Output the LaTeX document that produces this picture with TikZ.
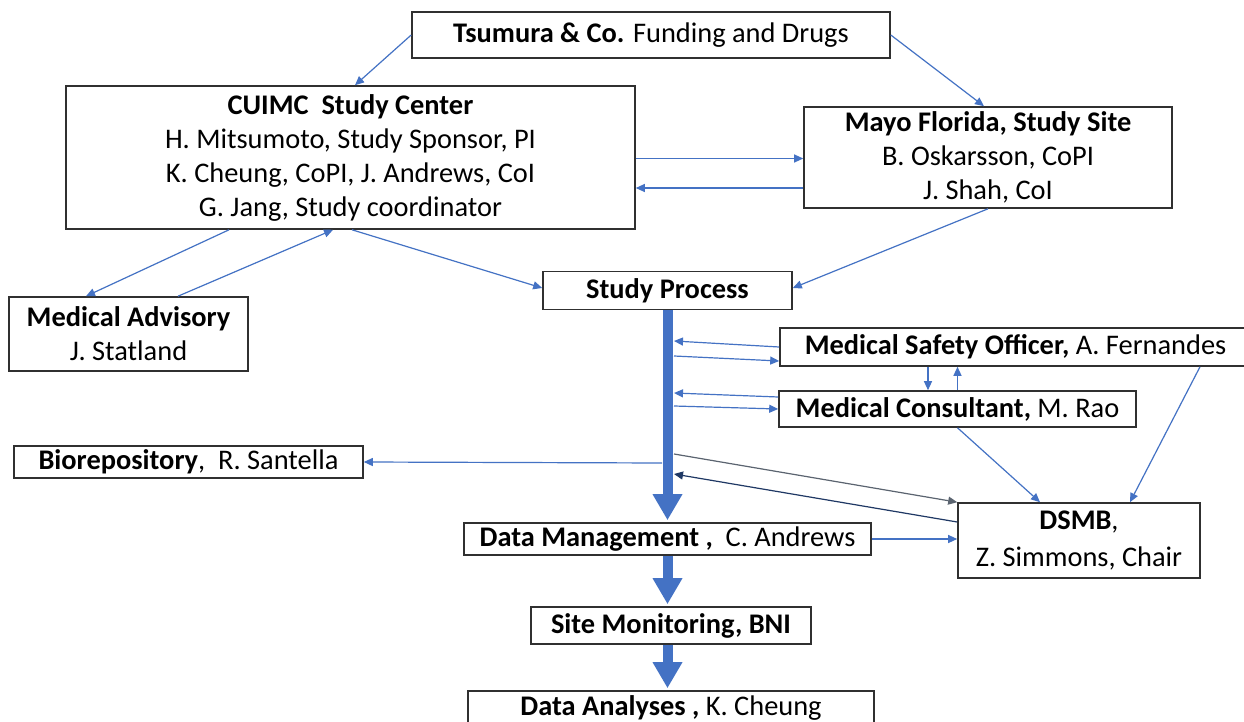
\documentclass[tikz,border=0pt]{standalone}
\usepackage{fontspec}
\setmainfont{Carlito}
\usetikzlibrary{arrows.meta}
\definecolor{ablue}{HTML}{4472C4}
\definecolor{agray}{HTML}{5B6470}
\definecolor{anavy}{HTML}{1F3864}
\definecolor{boxc}{HTML}{303030}
\begin{document}
\begin{tikzpicture}[x=0.5pt,y=-0.5pt,
  box/.style={draw=boxc, line width=0.8pt, inner sep=0pt, align=center, fill=white,
    font=\fontsize{14.2}{17}\selectfont},
  arr/.style={draw=ablue, line width=0.6pt, -{Triangle[length=4.5pt,width=4pt]}},
  big/.style={draw=ablue, line width=5pt, shorten >=1pt, -{Triangle[length=13pt,width=14pt]}}]
\clip (0,0) rectangle (1244,722);
\fill[white] (0,0) rectangle (1244,722);
% boxes
\node[box, minimum width=239pt, minimum height=23pt] (tsu) at (651,35)
  {\textbf{Tsumura \& Co.} Funding and Drugs};
\node[box, minimum width=284.5pt, minimum height=71.5pt] (cu) at (350.5,157.5)
  {\textbf{CUIMC\ \ Study Center}\\H. Mitsumoto, Study Sponsor, PI\\K. Cheung, CoPI, J. Andrews, CoI\\G. Jang, Study coordinator};
\node[box, minimum width=184pt, minimum height=50.5pt] (mayo) at (988,157.5)
  {\textbf{Mayo Florida, Study Site}\\B. Oskarsson, CoPI\\J. Shah, CoI};
\node[box, minimum width=124.5pt, minimum height=19pt] (sp) at (667.5,290.5)
  {\textbf{Study Process}};
\node[box, minimum width=119.5pt, minimum height=37pt] (ma) at (128.5,334)
  {\textbf{Medical Advisory}\\J. Statland};
\node[box, minimum width=235.5pt, minimum height=19pt] (mso) at (1015.5,347)
  {\textbf{Medical Safety Officer,} A. Fernandes};
\node[box, minimum width=178.5pt, minimum height=18pt] (mc) at (957.5,409)
  {\textbf{Medical Consultant,} M. Rao};
\node[box, minimum width=174.5pt, minimum height=16pt] (bio) at (188.5,462)
  {\textbf{Biorepository},\ \ R. Santella};
\node[box, minimum width=121pt, minimum height=37.5pt, font=\fontsize{14.2}{18.5}\selectfont] (dsmb) at (1079,540.5)
  {\textbf{DSMB},\\Z. Simmons, Chair};
\node[box, minimum width=203.5pt, minimum height=16pt] (dm) at (667.5,539)
  {\textbf{Data Management ,}\ \ C. Andrews};
\node[box, minimum width=140pt, minimum height=18.5pt] (sm) at (671,625.5)
  {\textbf{Site Monitoring, BNI}};
\node[box, minimum width=203pt, minimum height=17pt] (da) at (671,708)
  {\textbf{Data Analyses ,} K. Cheung};
% shaft coordinates
\coordinate (s1) at (674,341);
\coordinate (s2) at (674,356);
\coordinate (s3) at (674,393);
\coordinate (s4) at (674,406);
\coordinate (s5) at (662,463);
\coordinate (s6) at (674,454);
\coordinate (s7) at (674,474);
% thick arrows
\draw[big] (sp.south) -- (sp.south |- dm.north);
\draw[big] (dm.south) -- (dm.south |- sm.north);
\draw[big] (sm.south -| dm.south) -- (dm.south |- da.north);
% thin arrows
\draw[arr] (tsu.west) -- ([xshift=2.25pt]cu.north);
\draw[arr] (tsu.east) -- ([xshift=-2pt]mayo.north);
\draw[arr] ([yshift=-0.5pt]cu.east) -- ([yshift=-0.5pt]cu.east -| mayo.west);
\draw[arr] ([yshift=-15.25pt]mayo.west) -- ([yshift=-15.25pt]mayo.west -| cu.east);
\draw[arr] ([xshift=-60.75pt]cu.south) -- ([xshift=-21.25pt]ma.north);
\draw[arr] ([xshift=24.75pt]ma.north) -- ([xshift=-8.75pt]cu.south);
\draw[arr] ([xshift=0.75pt]cu.south) -- ([yshift=1.25pt]sp.west);
\draw[arr] (mayo.south) -- ([yshift=1.25pt]sp.east);
\draw[arr] (mso.west) -- (s1);
\draw[arr] (s2) -- ([yshift=-7pt]mso.west);
\draw[arr] ([yshift=6pt]mc.west) -- (s3);
\draw[arr] (s4) -- (mc.west);
\draw[arr] ([xshift=-43.75pt]mso.south) -- ([xshift=-43.75pt]mso.south |- mc.north);
\draw[arr] (mc.north) -- (mc.north |- mso.south);
\draw[arr] ([xshift=92.25pt]mso.south) -- ([xshift=25.5pt]dsmb.north);
\draw[arr] (mc.south) -- ([xshift=-19.5pt]dsmb.north);
\draw[arr] (s5) -- (bio.east);
\draw[arr, draw=agray] (s6) -- (dsmb.north west);
\draw[arr, draw=anavy] ([yshift=9.25pt]dsmb.west) -- (s7);
\draw[arr] (dm.east) -- (dm.east -| dsmb.west);
\end{tikzpicture}
\end{document}
